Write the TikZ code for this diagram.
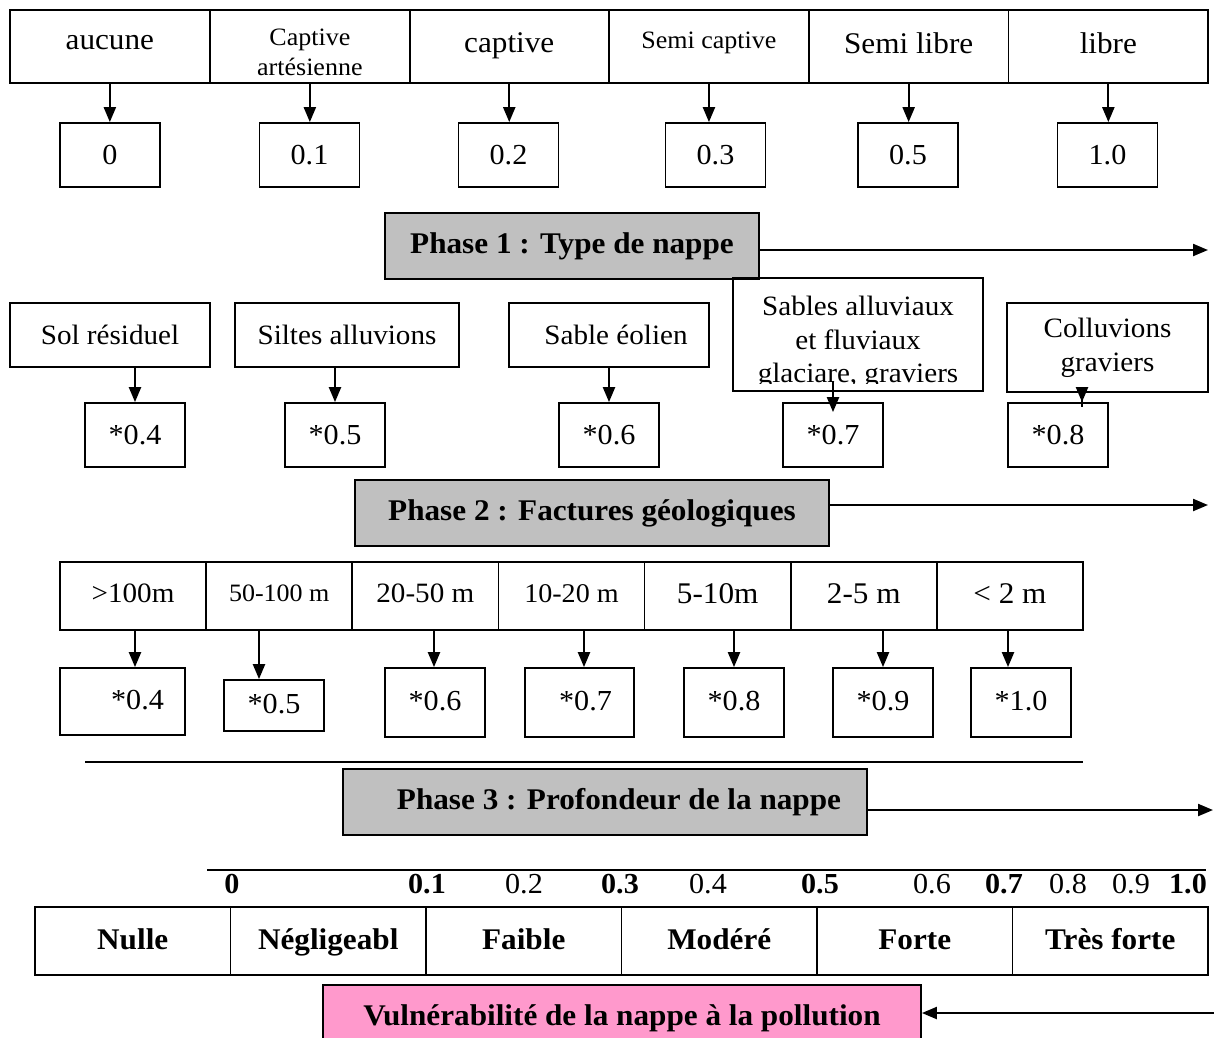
\documentclass[tikz,border=0pt]{standalone}
\usepackage{fontspec}
\setmainfont{Liberation Serif}[FakeStretch=1.04]
\usetikzlibrary{arrows.meta}
\definecolor{phasegray}{HTML}{C0C0C0}
\definecolor{vulnpink}{HTML}{FF99CC}
\newcommand{\fs}[1]{\fontsize{#1}{#1}\selectfont}
\tikzset{box/.style = {draw, line width=1.8pt, inner sep=2pt, align=center}}
\tikzset{cell/.style = {box, font=\fs{30}, text depth=0.5em}}
\tikzset{val/.style = {box, minimum width=100pt, minimum height=64pt, font=\fs{29}}}
\tikzset{geo/.style = {box, font=\fs{28}, minimum height=64pt}}
\tikzset{phase/.style = {box, fill=phasegray, minimum height=66pt, font=\bfseries\fs{30}}}
\tikzset{arr/.style = {line width=2.2pt, -{Triangle[length=15pt,width=12pt]}}}

\begin{document}
\begin{tikzpicture}[x=1pt, y=-1pt]
  \useasboundingbox (0,0) rectangle (1214,1037);

  % phase 1 : type de nappe
  \foreach \i/\txt in {1/aucune, 3/captive, 5/Semi libre, 6/libre} {
    \node[cell, text depth=0.75em, minimum width=199.7pt,
          minimum height=73pt] (t\i) at ({10+199.7*(\i-0.5)}, 46.5) {\txt};
  }
  \node[box, font=\fontsize{25}{30}\selectfont, minimum width=199.7pt,
        minimum height=73pt] (t2) at (309.85,46.5) {\rule{0pt}{28pt}Captive\\artésienne};
  \node[cell, font=\fs{25}, text depth=1.35em, minimum width=199.7pt,
        minimum height=73pt] (t4) at (708.95,46.5) {Semi captive};
  \foreach \i/\x/\num in {1/110/0, 2/309.5/0.1, 3/508.5/0.2, 4/715.5/0.3,
                          5/908/0.5, 6/1107.5/1.0} {
    \node[val] (v\i) at (\x,155) {\num};
  }
  \foreach \i in {1,...,6} {
    \draw[arr] (t\i.south) -- (t\i.south |- v\i.north);
  }
  \node[phase, minimum width=374pt] (p1) at (572,246) {Phase 1 : Type de nappe};
  \coordinate (e1) at (1208,250);
  \draw[arr] (p1.east |- e1) -- (e1);

  % phase 2 : facteurs geologiques
  \node[geo, minimum width=200pt] (g1) at (110,335) {Sol résiduel};
  \node[geo, minimum width=224pt] (g2) at (347,335) {Siltes alluvions};
  \node[geo, minimum width=200pt] (g3) at (609,335) {\hspace*{14pt}Sable éolien};
  \node[geo, minimum width=250pt, minimum height=113pt] (g4) at (858,334.5) {};
  \begin{scope}
    \clip (g4.north west) rectangle ([yshift=8pt]g4.south east);
    \node[font=\fontsize{28}{33.5}\selectfont, align=center, anchor=north,
          inner sep=0pt] (g4txt) at (858,296)
          {Sables alluviaux\\et fluviaux\\glaciare, graviers};
  \end{scope}
  \node[geo, font=\fontsize{28}{34}\selectfont, minimum width=201pt, text depth=0.5em,
        minimum height=89pt] (g5) at (1107.5,347.5) {Colluvions\\graviers};
  \foreach \i/\x/\num in {1/135/*0.4, 2/335/*0.5, 3/609/*0.6, 4/833/*0.7, 5/1058/*0.8} {
    \node[val] (w\i) at (\x,435) {\num};
  }
  \foreach \i in {1,2,3} {
    \draw[arr] (w\i.north |- g\i.south) -- (w\i.north);
  }
  \draw[arr, shorten <=-11pt, shorten >=-10pt] (w4.north |- g4.south) -- (w4.north);
  \coordinate (x5) at (1082,0);
  \draw[arr, shorten <=-14pt] (x5 |- g5.south) -- (x5 |- w5.north);
  \node[phase, minimum width=474pt] (p2) at (592,513) {Phase 2 : Factures géologiques};
  \coordinate (e2) at (1208,505);
  \draw[arr] (p2.east |- e2) -- (e2);

  % phase 3 : profondeur
  \foreach \i/\txt/\sz in {1/>100m/28, 2/50-100 m/25, 3/20-50 m/28, 4/10-20 m/27,
                           5/5-10m/30, 6/2-5 m/30, 7/< 2 m/30} {
    \node[cell, font=\fs{\sz}, minimum width=146.14pt, minimum height=68pt]
          (d\i) at ({60+146.14*(\i-0.5)}, 596) {\txt};
  }
  \foreach \i/\x/\y/\w/\h/\num in {1/122.5/701.5/125/67/\hspace*{30pt}*0.4, 2/274/705.5/100/51/*0.5,
                                   3/435/702.5/100/69/*0.6, 4/579.5/702.5/109/69/\hspace*{12pt}*0.7,
                                   5/734/702.5/100/69/*0.8, 6/883/702.5/100/69/*0.9,
                                   7/1021/702.5/100/69/*1.0} {
    \node[val, text depth=0.35em, minimum width=\w pt, minimum height=\h pt] (u\i) at (\x,\y) {\num};
  }
  \foreach \i/\x in {1/135, 2/259, 3/434, 4/584, 5/734, 6/883, 7/1008} {
    \coordinate (k\i) at (\x,0);
    \draw[arr] (k\i |- d\i.south) -- (k\i |- u\i.north);
  }
  \draw[line width=1.8pt] (85,762) -- (1083,762);
  \node[phase, minimum width=524pt] (p3) at (605,802) {\hspace*{28pt}Phase 3 : Profondeur de la nappe};
  \coordinate (e3) at (1213,810);
  \draw[arr] (p3.east |- e3) -- (e3);

  % echelle de vulnerabilite
  \draw[line width=1.8pt] (207,870) -- (1206,870);
  \foreach \i/\x/\lab in {1/232/0, 2/427/0.1, 4/620/0.3, 6/820/0.5, 8/1004/0.7, 11/1188/1.0} {
    \node[font=\bfseries\fs{29}, inner sep=0pt] (s\i) at (\x,884) {\lab};
  }
  \foreach \i/\x/\lab in {3/524/0.2, 5/708/0.4, 7/932/0.6, 9/1068/0.8, 10/1131/0.9} {
    \node[font=\fs{29}, inner sep=0pt] (s\i) at (\x,884) {\lab};
  }
  \foreach \i/\txt in {1/Nulle, 2/Négligeabl, 3/Faible, 4/Modéré, 5/Forte, 6/Très forte} {
    \node[cell, font=\bfseries\fs{30}, text depth=0.35em, minimum width=195.5pt, minimum height=68pt]
          (c\i) at ({35+195.5*(\i-0.5)}, 941) {\txt};
  }
  \node[box, fill=vulnpink, minimum width=598pt, minimum height=66pt,
        font=\bfseries\fs{30}] (vul) at (622,1018) {Vulnérabilité de la nappe à la pollution};
  \coordinate (e4) at (1214,1013);
  \draw[arr] (e4) -- (vul.east |- e4);
\end{tikzpicture}
\end{document}
